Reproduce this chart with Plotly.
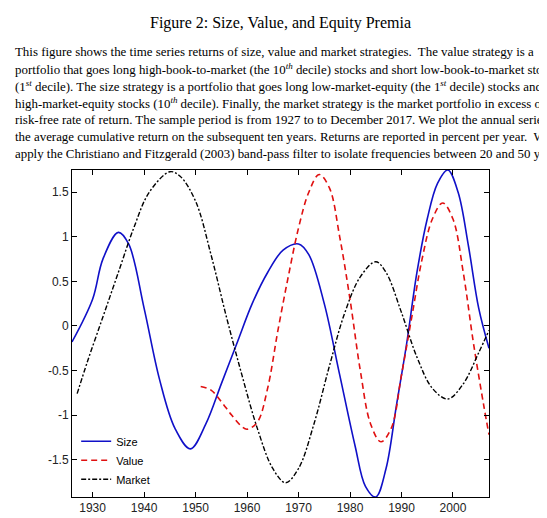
import plotly.graph_objects as go

size_x = [1926,1930,1932,1935,1937,1940,1943,1946,1949,1952,1955,1958,1961,1964,1967,1970,1972,1975,1978,1981,1983,1985,1987,1989,1991,1993,1995,1997,1999,2001,2003,2005,2007]
size_y = [-0.18,0.3,0.75,1.05,0.92,0.2,-0.6,-1.15,-1.38,-1.1,-0.65,-0.2,0.25,0.6,0.85,0.92,0.8,0.25,-0.55,-1.35,-1.8,-1.92,-1.6,-0.9,-0.2,0.6,1.2,1.6,1.75,1.5,0.9,0.2,-0.25]
value_x = [1951,1953,1955,1957,1959,1960,1962,1964,1966,1968,1970,1972,1974,1976,1978,1980,1982,1984,1986,1988,1990,1992,1994,1996,1998,2000,2002,2004,2006,2007]
value_y = [-0.68,-0.72,-0.85,-1.0,-1.13,-1.16,-1.08,-0.7,-0.05,0.55,1.1,1.5,1.7,1.55,1.0,0.3,-0.5,-1.1,-1.3,-1.15,-0.55,0.1,0.75,1.2,1.38,1.2,0.6,-0.2,-0.9,-1.22]
market_x = [1927,1929,1932,1935,1938,1941,1945,1947,1950,1953,1956,1959,1962,1965,1967.5,1970,1973,1976,1979,1982,1985,1987,1990,1993,1996,1999,2002,2005,2007]
market_y = [-0.76,-0.4,0.1,0.6,1.1,1.5,1.73,1.68,1.4,0.8,0.1,-0.55,-1.15,-1.6,-1.76,-1.6,-1.1,-0.45,0.15,0.55,0.72,0.6,0.15,-0.35,-0.7,-0.82,-0.65,-0.3,-0.05]

fig = go.Figure()
fig.add_trace(go.Scatter(x=size_x, y=size_y, name="Size", mode="lines", line=dict(color="#1010c8", width=1.6, shape="spline")))
fig.add_trace(go.Scatter(x=value_x, y=value_y, name="Value", mode="lines", line=dict(color="#e01010", width=1.6, dash="6px,4px", shape="spline")))
fig.add_trace(go.Scatter(x=market_x, y=market_y, name="Market", mode="lines", line=dict(color="black", width=1.4, dash="5px,2px,2px,2px", shape="spline")))

serif = "Liberation Serif, DejaVu Serif, serif"
lines = [
    "This figure shows the time series returns of size, value and market strategies.  The value strategy is a",
    "portfolio that goes long high-book-to-market (the 10<sup><i>th</i></sup> decile) stocks and short low-book-to-market stocks",
    "(1<sup><i>st</i></sup> decile). The size strategy is a portfolio that goes long low-market-equity (the 1<sup><i>st</i></sup> decile) stocks and short",
    "high-market-equity stocks (10<sup><i>th</i></sup> decile). Finally, the market strategy is the market portfolio in excess of the",
    "risk-free rate of return. The sample period is from 1927 to to December 2017. We plot the annual series of",
    "the average cumulative return on the subsequent ten years. Returns are reported in percent per year.  We",
    "apply the Christiano and Fitzgerald (2003) band-pass filter to isolate frequencies between 20 and 50 years.",
]
ann = [dict(text="Figure 2: Size, Value, and Equity Premia", x=0.5, y=15, xref="paper", yref="paper",
            showarrow=False, font=dict(family=serif, size=16, color="black"))]
for i, t in enumerate(lines):
    ann.append(dict(text=t, x=5, y=44 + 17 * i, showarrow=False, xanchor="left",
                    font=dict(family=serif, size=12.9, color="black")))
H, W = 518, 547
t_m, b_m, l_m, r_m = 162, 29, 64, 66
ph, pw = H - t_m - b_m, W - l_m - r_m
out = []
for a in ann:
    yp = a["y"]
    a["y"] = (H - b_m - yp) / ph
    a["yref"] = "paper"
    a["yanchor"] = "middle"
    if a.get("xanchor") == "left":
        a["x"] = (a["x"] - l_m) / pw
    a["xref"] = "paper"
    out.append(a)

axis = dict(showgrid=False, zeroline=False, showline=True, linecolor="black", linewidth=1,
            mirror="ticks", ticks="inside", ticklen=5, tickcolor="black",
            tickfont=dict(family="Liberation Sans, Arial", size=12, color="#222"))
fig.update_layout(
    width=W, height=H, margin=dict(l=l_m, r=r_m, t=t_m, b=b_m),
    paper_bgcolor="white", plot_bgcolor="white",
    xaxis=dict(range=[1926, 2007], tickvals=[1930,1940,1950,1960,1970,1980,1990,2000], **axis),
    yaxis=dict(range=[-1.92, 1.75], tickvals=[-1.5,-1,-0.5,0,0.5,1,1.5], ticktext=["-1.5","-1","-0.5","0","0.5","1","1.5"], **axis),
    legend=dict(x=0.01, y=0.01, xanchor="left", yanchor="bottom", bgcolor="rgba(0,0,0,0)",
                font=dict(family="Liberation Sans, Arial", size=11, color="black"),
                tracegroupgap=0, itemwidth=30),
    annotations=out,
)
fig.write_html("out.html")
